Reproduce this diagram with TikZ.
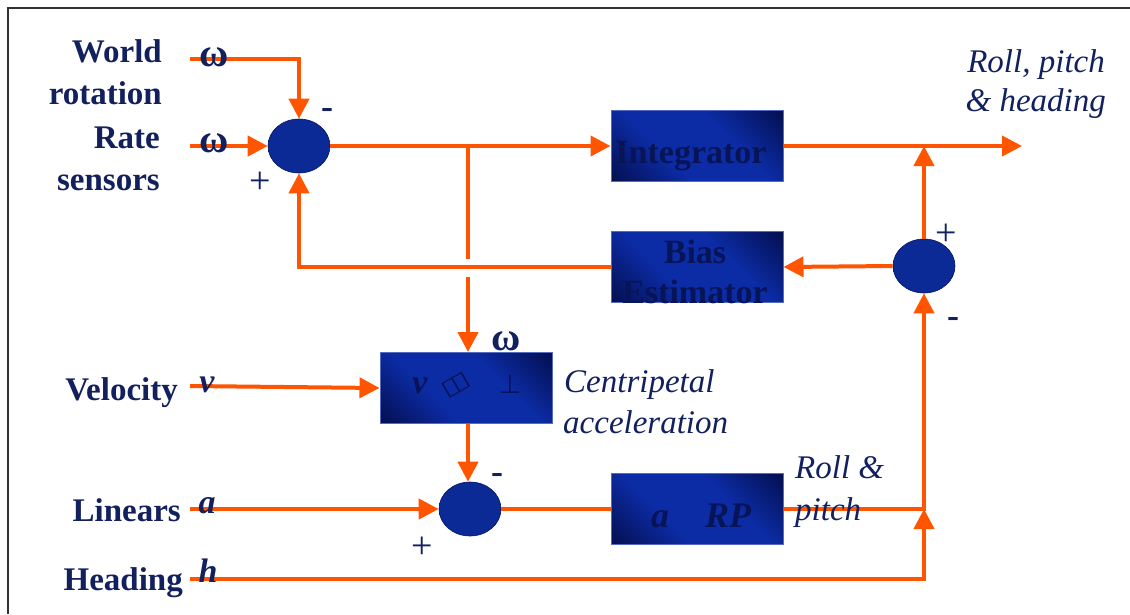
\documentclass[tikz,border=0pt]{standalone}
\usepackage{fontspec}
\setmainfont{Liberation Serif}
\newfontfamily\symfont{DejaVu Sans}
\usetikzlibrary{arrows.meta,shapes.geometric}

\definecolor{navytext}{RGB}{18,32,94}
\definecolor{wireorange}{RGB}{255,85,0}
\definecolor{boxblue}{RGB}{12,44,165}
\definecolor{boxdark}{RGB}{4,14,78}
\definecolor{boxtext}{RGB}{8,20,88}
\definecolor{sumblue}{RGB}{12,42,150}
\definecolor{sumdark}{RGB}{6,20,95}

\pgfdeclareverticalshading{boxshade}{100bp}{color(0bp)=(boxdark); color(14bp)=(boxdark); color(38bp)=(boxblue); color(62bp)=(boxblue); color(86bp)=(boxdark); color(100bp)=(boxdark)}
\pgfdeclareradialshading{sumshade}{\pgfpoint{0bp}{0bp}}{color(0bp)=(sumblue); color(38bp)=(sumblue); color(50bp)=(sumdark); color(100bp)=(sumdark)}

\tikzset{
  wire/.style={draw=wireorange,line width=4pt},
  feed/.style={wire,-{Triangle[length=20pt,width=20pt]}},
  block/.style={rectangle,minimum width=172pt,minimum height=71pt,inner sep=0pt,
    shading=boxshade,shading angle=-45,draw=boxblue!70!white,line width=1pt},
  summer/.style={ellipse,minimum width=62pt,minimum height=54pt,inner sep=0pt,
    shading=sumshade,draw=sumdark,line width=0.6pt},
  blocktext/.style={text=boxtext,font=\fontsize{34}{40}\selectfont\bfseries,inner sep=0pt},
  lbl/.style={text=navytext,font=\fontsize{33}{40}\selectfont\bfseries,inner sep=0pt},
  omega/.style={text=navytext,font=\fontsize{40}{40}\selectfont\bfseries,inner sep=0pt},
  var/.style={text=navytext,font=\fontsize{34}{40}\selectfont\bfseries\itshape,inner sep=0pt},
  note/.style={text=navytext,font=\fontsize{33}{40}\selectfont\itshape,inner sep=0pt},
  sgn/.style={text=navytext,font=\fontsize{38}{38}\selectfont,inner sep=0pt},
  minus/.style={text=navytext,font=\fontsize{36}{36}\selectfont\bfseries,inner sep=0pt}
}

\begin{document}
\begin{tikzpicture}[x=1pt,y=-1pt]
\useasboundingbox (0,0) rectangle (1130,614);
\draw[line width=2pt,black!80] (8,614) -- (8,8) -- (1130,8);

% blocks and summing points
\node[summer] (sum1) at (299,146) {};
\node[summer] (sum2) at (924,266) {};
\node[summer] (sum3) at (470,509) {};
\node[block] (integ) at (697,146) {};
\node[block] (bias) at (697,267) {};
\node[block] (centri) at (466,388) {};
\node[block] (arp) at (697,509) {};

% text inside the blocks
\node[blocktext,anchor=base] (integtxt) at (691,163) {Integrator};
\node[blocktext,anchor=base] (biastxt) at (695,263) {Bias};
\node[blocktext,anchor=base] (esttxt) at (695,303) {Estimator};
\node[blocktext,font=\fontsize{34}{40}\selectfont\bfseries\itshape,anchor=base] (cv) at (420,393) {v};
\node[text=boxtext,font=\symfont\fontsize{22}{22}\selectfont,rotate=30,xscale=1.4] (cx) at (456,385) {◫};
\node[text=boxtext,font=\symfont\fontsize{26}{26}\selectfont,anchor=base] (cw) at (510,393) {⊥};
\node[blocktext,font=\fontsize{36}{40}\selectfont\bfseries\itshape,anchor=base] (ra) at (660,527) {a};
\node[blocktext,font=\fontsize{36}{40}\selectfont\bfseries\itshape,anchor=base] (rrp) at (728,527) {RP};

% inputs
\coordinate (worldin) at (190,59);
\coordinate (ratein) at (190,146);
\coordinate (velin) at (190,386);
\coordinate (linin) at (190,509);
\coordinate (headin) at (190,579);
\coordinate (split) at (468,146);
\coordinate (hopA) at (468,259);
\coordinate (hopB) at (468,277);
\coordinate (rollout) at (1022,146);
\coordinate (hjoin) at (924,509);

\node[lbl,anchor=base east] (world) at (162,62) {World};
\node[lbl,anchor=base east] (rotation) at (162,104) {rotation};
\node[lbl,anchor=base east] (rate) at (160,148) {Rate};
\node[lbl,anchor=base east] (sensors) at (160,190) {sensors};
\node[lbl,anchor=base east] (velocity) at (178,400) {Velocity};
\node[lbl,anchor=base east] (linears) at (181,521) {Linears};
\node[lbl,anchor=base east] (heading) at (183,590) {Heading};

% connectors
\draw[feed] (worldin) -| (sum1.north);
\draw[feed] (ratein) -- (sum1.west);
\draw[feed] (sum1.east) -- (integ.west);
\draw[feed] (integ.east) -- (rollout);
\draw[feed] (sum2.north) -- (sum2.north |- rollout);
\draw[feed] (sum2.west) -- (bias.east);
\draw[feed] (bias.west) -| (sum1.south);
\draw[wire] (split) -- (hopA);
\draw[feed] (hopB) -- (hopB |- centri.north);
\draw[feed] (velin) -- (centri.west);
\draw[feed] (centri.south -| split) -- (sum3.north -| split);
\draw[feed] (linin) -- (sum3.west);
\draw[wire] (sum3.east) -- (arp.west);
\draw[feed] (arp.east) -| (sum2.south);
\draw[feed] (headin) -| (hjoin);

% input symbols
\node[omega,anchor=base] (omworld) at (214,66) {ω};
\node[omega,anchor=base] (omrate) at (214,152) {ω};
\node[var,anchor=base] (vsym) at (207,392) {v};
\node[var,anchor=base] (asym) at (207,513) {a};
\node[var,anchor=base] (hsym) at (208,582) {h};
\node[omega,anchor=base] (omcent) at (506,350) {ω};

% signs
\node[minus] (s1m) at (327,113) {-};
\node[sgn] (s1p) at (260,183) {+};
\node[sgn] (s2p) at (946,235) {+};
\node[minus] (s2m) at (953,322) {-};
\node[minus] (s3m) at (497,478) {-};
\node[sgn] (s3p) at (422,548) {+};

% italic notes
\node[note,anchor=base east] (rollpitch) at (1105,72) {Roll, pitch};
\node[note,anchor=base east] (andhead) at (1106,111) {\& heading};
\node[note,anchor=base west] (centrip) at (564,392) {Centripetal};
\node[note,anchor=base west] (accel) at (563,433) {acceleration};
\node[note,anchor=base west] (rolland) at (795,478) {Roll \&};
\node[note,anchor=base west] (pitch) at (795,520) {pitch};
\end{tikzpicture}
\end{document}
